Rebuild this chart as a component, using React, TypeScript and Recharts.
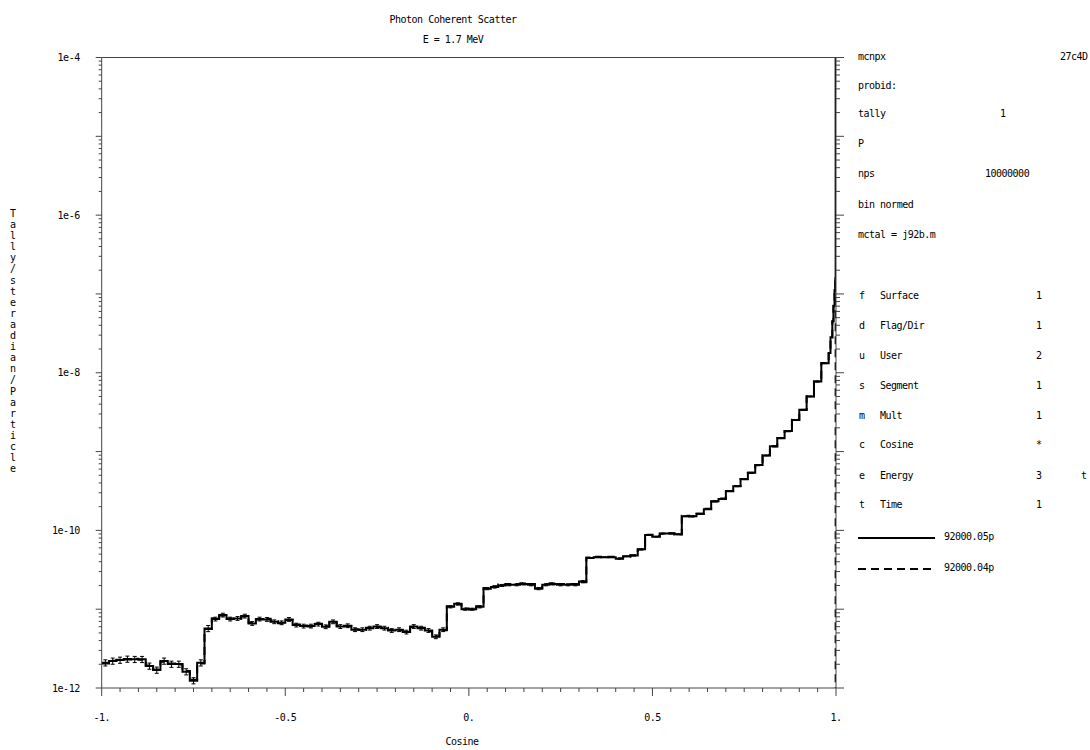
import { ComposedChart, Line, Scatter, ErrorBar, XAxis, YAxis } from 'recharts';

// tally per cosine bin (bin width 0.02, left edges -1 .. 0.96)
const binWidth = 0.02;
const solidBins = [
  2.09e-12, 2.2e-12, 2.26e-12, 2.33e-12, 2.31e-12, 2.31e-12, 1.9e-12, 1.69e-12, 2.2e-12, 2.01e-12,
  2.01e-12, 1.61e-12, 1.24e-12, 2.09e-12, 5.7e-12, 7.5e-12, 8.42e-12, 7.5e-12, 7.64e-12, 8.18e-12,
  6.6e-12, 7.5e-12, 7.42e-12, 6.93e-12, 6.73e-12, 7.42e-12, 6.29e-12, 6.11e-12, 6.11e-12, 6.47e-12,
  5.99e-12, 6.92e-12, 6.03e-12, 6.17e-12, 5.5e-12, 5.5e-12, 5.75e-12, 6.03e-12, 5.75e-12, 5.37e-12,
  5.5e-12, 5.13e-12, 6.03e-12, 5.75e-12, 5.37e-12, 4.47e-12, 5.5e-12, 1.07e-11, 1.17e-11, 1.0e-11,
  1.0e-11, 1.07e-11, 1.82e-11, 1.91e-11, 2.0e-11, 2.04e-11, 2.04e-11, 2.09e-11, 2.04e-11, 1.82e-11,
  2.04e-11, 2.09e-11, 2.04e-11, 2.04e-11, 2.04e-11, 2.24e-11, 4.47e-11, 4.57e-11, 4.57e-11, 4.57e-11,
  4.37e-11, 4.68e-11, 4.79e-11, 5.75e-11, 8.71e-11, 8.32e-11, 9.12e-11, 9.12e-11, 8.91e-11, 1.51e-10,
  1.51e-10, 1.62e-10, 1.86e-10, 2.34e-10, 2.51e-10, 3.16e-10, 3.63e-10, 4.47e-10, 5.37e-10, 6.76e-10,
  8.91e-10, 1.17e-9, 1.48e-9, 1.82e-9, 2.51e-9, 3.39e-9, 5.01e-9, 7.76e-9, 1.32e-8,
];
const dashedBins = [
  2.05e-12, 2.22e-12, 2.28e-12, 2.3e-12, 2.35e-12, 2.28e-12, 1.93e-12, 1.72e-12, 2.16e-12, 2.04e-12,
  1.98e-12, 1.64e-12, 1.27e-12, 2.05e-12, 5.6e-12, 7.65e-12, 8.3e-12, 7.62e-12, 7.55e-12, 8.05e-12,
  6.75e-12, 7.4e-12, 7.55e-12, 7.05e-12, 6.65e-12, 7.3e-12, 6.4e-12, 6.2e-12, 6.02e-12, 6.55e-12,
  6.08e-12, 6.8e-12, 6.12e-12, 6.08e-12, 5.58e-12, 5.44e-12, 5.82e-12, 5.95e-12, 5.82e-12, 5.45e-12,
  5.42e-12, 5.22e-12, 5.95e-12, 5.82e-12, 5.3e-12, 4.55e-12, 5.42e-12, 1.09e-11, 1.15e-11, 1.02e-11,
  0.99e-11, 1.09e-11, 1.86e-11, 1.95e-11, 2.05e-11, 2.09e-11, 2.08e-11, 2.13e-11, 2.08e-11, 1.86e-11,
  2.08e-11, 2.13e-11, 2.08e-11, 2.08e-11, 2.08e-11, 2.2e-11, 4.52e-11, 4.62e-11, 4.55e-11, 4.62e-11,
  4.42e-11, 4.64e-11, 4.85e-11, 5.7e-11, 8.8e-11, 8.4e-11, 9.05e-11, 9.2e-11, 8.85e-11, 1.53e-10,
  1.5e-10, 1.63e-10, 1.88e-10, 2.32e-10, 2.53e-10, 3.14e-10, 3.66e-10, 4.45e-10, 5.4e-10, 6.72e-10,
  8.95e-10, 1.16e-9, 1.49e-9, 1.81e-9, 2.53e-9, 3.37e-9, 5.03e-9, 7.72e-9, 1.33e-8,
];

// forward peak, finer bins near cosine = 1
const fineEdges = [0.98, 0.985, 0.99, 0.993, 0.996, 0.998, 0.999];
const fineSolid = [1.78e-8, 2.82e-8, 4.47e-8, 7.08e-8, 1.12e-7, 1.58e-7, 5e-4];
const fineDashed = [1.76e-8, 2.8e-8, 4.5e-8, 7.0e-8, 1.1e-7, 1.5e-7, 1e-14];

// relative statistical error by cosine range
const errBands = [
  { from: -1, to: -0.7, rel: 0.09 },
  { from: -0.7, to: -0.06, rel: 0.055 },
  { from: -0.06, to: 0.32, rel: 0.03 },
  { from: 0.32, to: 1, rel: 0.012 },
];

const xMajorTicks = [-1, -0.5, 0, 0.5, 1];
const xTickLabels = ['-1.', '-0.5', '0.', '0.5', '1.'];
const yMajorTicks = [1e-12, 1e-11, 1e-10, 1e-9, 1e-8, 1e-7, 1e-6, 1e-5, 1e-4];
const yTickLabels = ['1e-12', '', '1e-10', '', '1e-8', '', '1e-6', '', '1e-4'];

const xAllTicks = Array.from({ length: 41 }, (_, i) => -1 + i * 0.05);
const yAllTicks = [
  ...yMajorTicks,
  ...yMajorTicks.slice(0, -1).flatMap((d) => [2, 3, 4, 5, 6, 7, 8, 9].map((m) => m * d)),
].sort((a, b) => a - b);

const toSteps = (bins: number[], fine: number[]) => [
  ...bins.map((v, i) => ({ x: -1 + i * binWidth, v })),
  ...fine.map((v, i) => ({ x: fineEdges[i], v })),
  { x: 1, v: fine[fine.length - 1] },
];

const solidData = toSteps(solidBins, fineSolid);
const dashedData = toSteps(dashedBins, fineDashed);
const errData = solidBins.map((v, i) => {
  const x = -1 + (i + 0.5) * binWidth;
  const band = errBands.find((b) => x >= b.from && x < b.to) ?? errBands[errBands.length - 1];
  return { x, v, err: [v * band.rel, v * band.rel] };
});

const mono = '"DejaVu Sans Mono", "Liberation Mono", monospace';
const axisColor = '#444';
const textProps = { fontSize: 10, fontFamily: mono, fill: '#000', letterSpacing: -0.5 };

const xMajorIndex = (v: number) => xMajorTicks.findIndex((t) => Math.abs(t - v) < 1e-9);
const yMajorIndex = (v: number) => yMajorTicks.findIndex((t) => Math.abs(t - v) / t < 1e-6);

const XTick = ({ x, y, payload, side }: any) => {
  const idx = xMajorIndex(payload.value);
  const len = idx >= 0 ? 8 : 4;
  const dir = side === 'top' ? -1 : 1;
  return (
    <g>
      <line x1={x} x2={x} y1={y} y2={y + dir * len} stroke={axisColor} strokeWidth={1} />
      {side === 'bottom' && idx >= 0 && (
        <text x={x} y={y + 29} dy="0.35em" textAnchor="middle" {...textProps}>
          {xTickLabels[idx]}
        </text>
      )}
    </g>
  );
};

const YTick = ({ x, y, payload, side }: any) => {
  const idx = yMajorIndex(payload.value);
  const len = side === 'left' ? (idx >= 0 ? 6 : 3) : idx >= 0 ? 8 : 4;
  const dir = side === 'left' ? -1 : 1;
  return (
    <g>
      <line x1={x} x2={x + dir * len} y1={y} y2={y} stroke={axisColor} strokeWidth={1} />
      {side === 'left' && idx >= 0 && yTickLabels[idx] && (
        <text x={x - 22} y={y} dy="0.35em" textAnchor="end" {...textProps}>
          {yTickLabels[idx]}
        </text>
      )}
    </g>
  );
};

const legendRows = [
  { k: 'f', name: 'Surface', val: '1', y: 296 },
  { k: 'd', name: 'Flag/Dir', val: '1', y: 326 },
  { k: 'u', name: 'User', val: '2', y: 356 },
  { k: 's', name: 'Segment', val: '1', y: 386 },
  { k: 'm', name: 'Mult', val: '1', y: 416 },
  { k: 'c', name: 'Cosine', val: '*', y: 445 },
  { k: 'e', name: 'Energy', val: '3', y: 476 },
  { k: 't', name: 'Time', val: '1', y: 505 },
];

const T = ({ x, y, children, center }: { x: number; y: number; children: any; center?: boolean }) => (
  <div
    style={{
      position: 'absolute',
      left: center ? x - 150 : x,
      width: center ? 300 : undefined,
      textAlign: center ? 'center' : 'left',
      top: y - 6,
      lineHeight: '12px',
      fontSize: 10,
      fontFamily: mono,
      letterSpacing: -0.5,
      whiteSpace: 'pre',
      color: '#000',
    }}
  >
    {children}
  </div>
);

const axisCommon = { allowDataOverflow: true, interval: 0 as const, tickSize: 0, tickMargin: 0, tickLine: false, stroke: axisColor };

export default function App() {
  const yLabel = 'Tally/steradian/Particle';
  return (
    <div style={{ position: 'absolute', left: 0, top: 0, width: 1090, height: 750, background: '#fff', overflow: 'hidden' }}>
      <ComposedChart width={1090} height={750} margin={{ top: 56.5, right: 253, bottom: 61, left: 100.7 }}>
        <XAxis
          xAxisId={0}
          dataKey="x"
          type="number"
          domain={[-1, 1]}
          ticks={xAllTicks}
          height={1}
          tick={(p: any) => <XTick {...p} side="bottom" />}
          {...axisCommon}
        />
        <XAxis
          xAxisId="t"
          orientation="top"
          type="number"
          domain={[-1, 1]}
          ticks={xAllTicks}
          height={1}
          tick={(p: any) => <XTick {...p} side="top" />}
          {...axisCommon}
        />
        <YAxis
          yAxisId={0}
          scale="log"
          type="number"
          domain={[1e-12, 1e-4]}
          ticks={yAllTicks}
          width={1}
          tick={(p: any) => <YTick {...p} side="left" />}
          {...axisCommon}
        />
        <YAxis
          yAxisId="r"
          orientation="right"
          scale="log"
          type="number"
          domain={[1e-12, 1e-4]}
          ticks={yAllTicks}
          width={1}
          tick={(p: any) => <YTick {...p} side="right" />}
          {...axisCommon}
        />

        <Line data={dashedData} dataKey="v" type="stepAfter" stroke="#000" strokeWidth={2} strokeDasharray="8 5" dot={false} isAnimationActive={false} />
        <Line data={solidData} dataKey="v" type="stepAfter" stroke="#000" strokeWidth={2} dot={false} isAnimationActive={false} />
        <Scatter data={errData} dataKey="v" shape={() => <g />} isAnimationActive={false}>
          <ErrorBar dataKey="err" direction="y" width={2} stroke="#000" strokeWidth={1} />
        </Scatter>
      </ComposedChart>

      <T x={453} y={20} center>Photon Coherent Scatter</T>
      <T x={453} y={40} center>E = 1.7 MeV</T>
      <T x={462} y={742} center>Cosine</T>

      <div style={{ position: 'absolute', left: 8, top: 208, width: 10, fontSize: 10, fontFamily: mono, textAlign: 'center' }}>
        {yLabel.split('').map((ch, i) => (
          <div key={i} style={{ lineHeight: '11.1px', height: 11.1 }}>{ch}</div>
        ))}
      </div>

      <T x={858} y={56.5}>mcnpx</T>
      <T x={1060} y={56.5}>27c4D</T>
      <T x={858} y={86}>probid:</T>
      <T x={858} y={114}>tally</T>
      <T x={1000} y={114}>1</T>
      <T x={858} y={144}>P</T>
      <T x={858} y={174}>nps</T>
      <T x={985} y={174}>10000000</T>
      <T x={858} y={205}>bin normed</T>
      <T x={858} y={234.5}>mctal = j92b.m</T>
      {legendRows.map((r) => (
        <div key={r.k}>
          <T x={859} y={r.y}>{r.k}</T>
          <T x={880} y={r.y}>{r.name}</T>
          <T x={1036} y={r.y}>{r.val}</T>
        </div>
      ))}
      <T x={1081} y={476}>t</T>

      <svg style={{ position: 'absolute', left: 0, top: 0 }} width={1090} height={750} pointerEvents="none">
        <line x1={858} x2={935} y1={538} y2={538} stroke="#000" strokeWidth={2} />
        <line x1={858} x2={935} y1={569} y2={569} stroke="#000" strokeWidth={2} strokeDasharray="8 5" />
      </svg>
      <T x={944} y={537}>92000.05p</T>
      <T x={944} y={568}>92000.04p</T>
    </div>
  );
}
